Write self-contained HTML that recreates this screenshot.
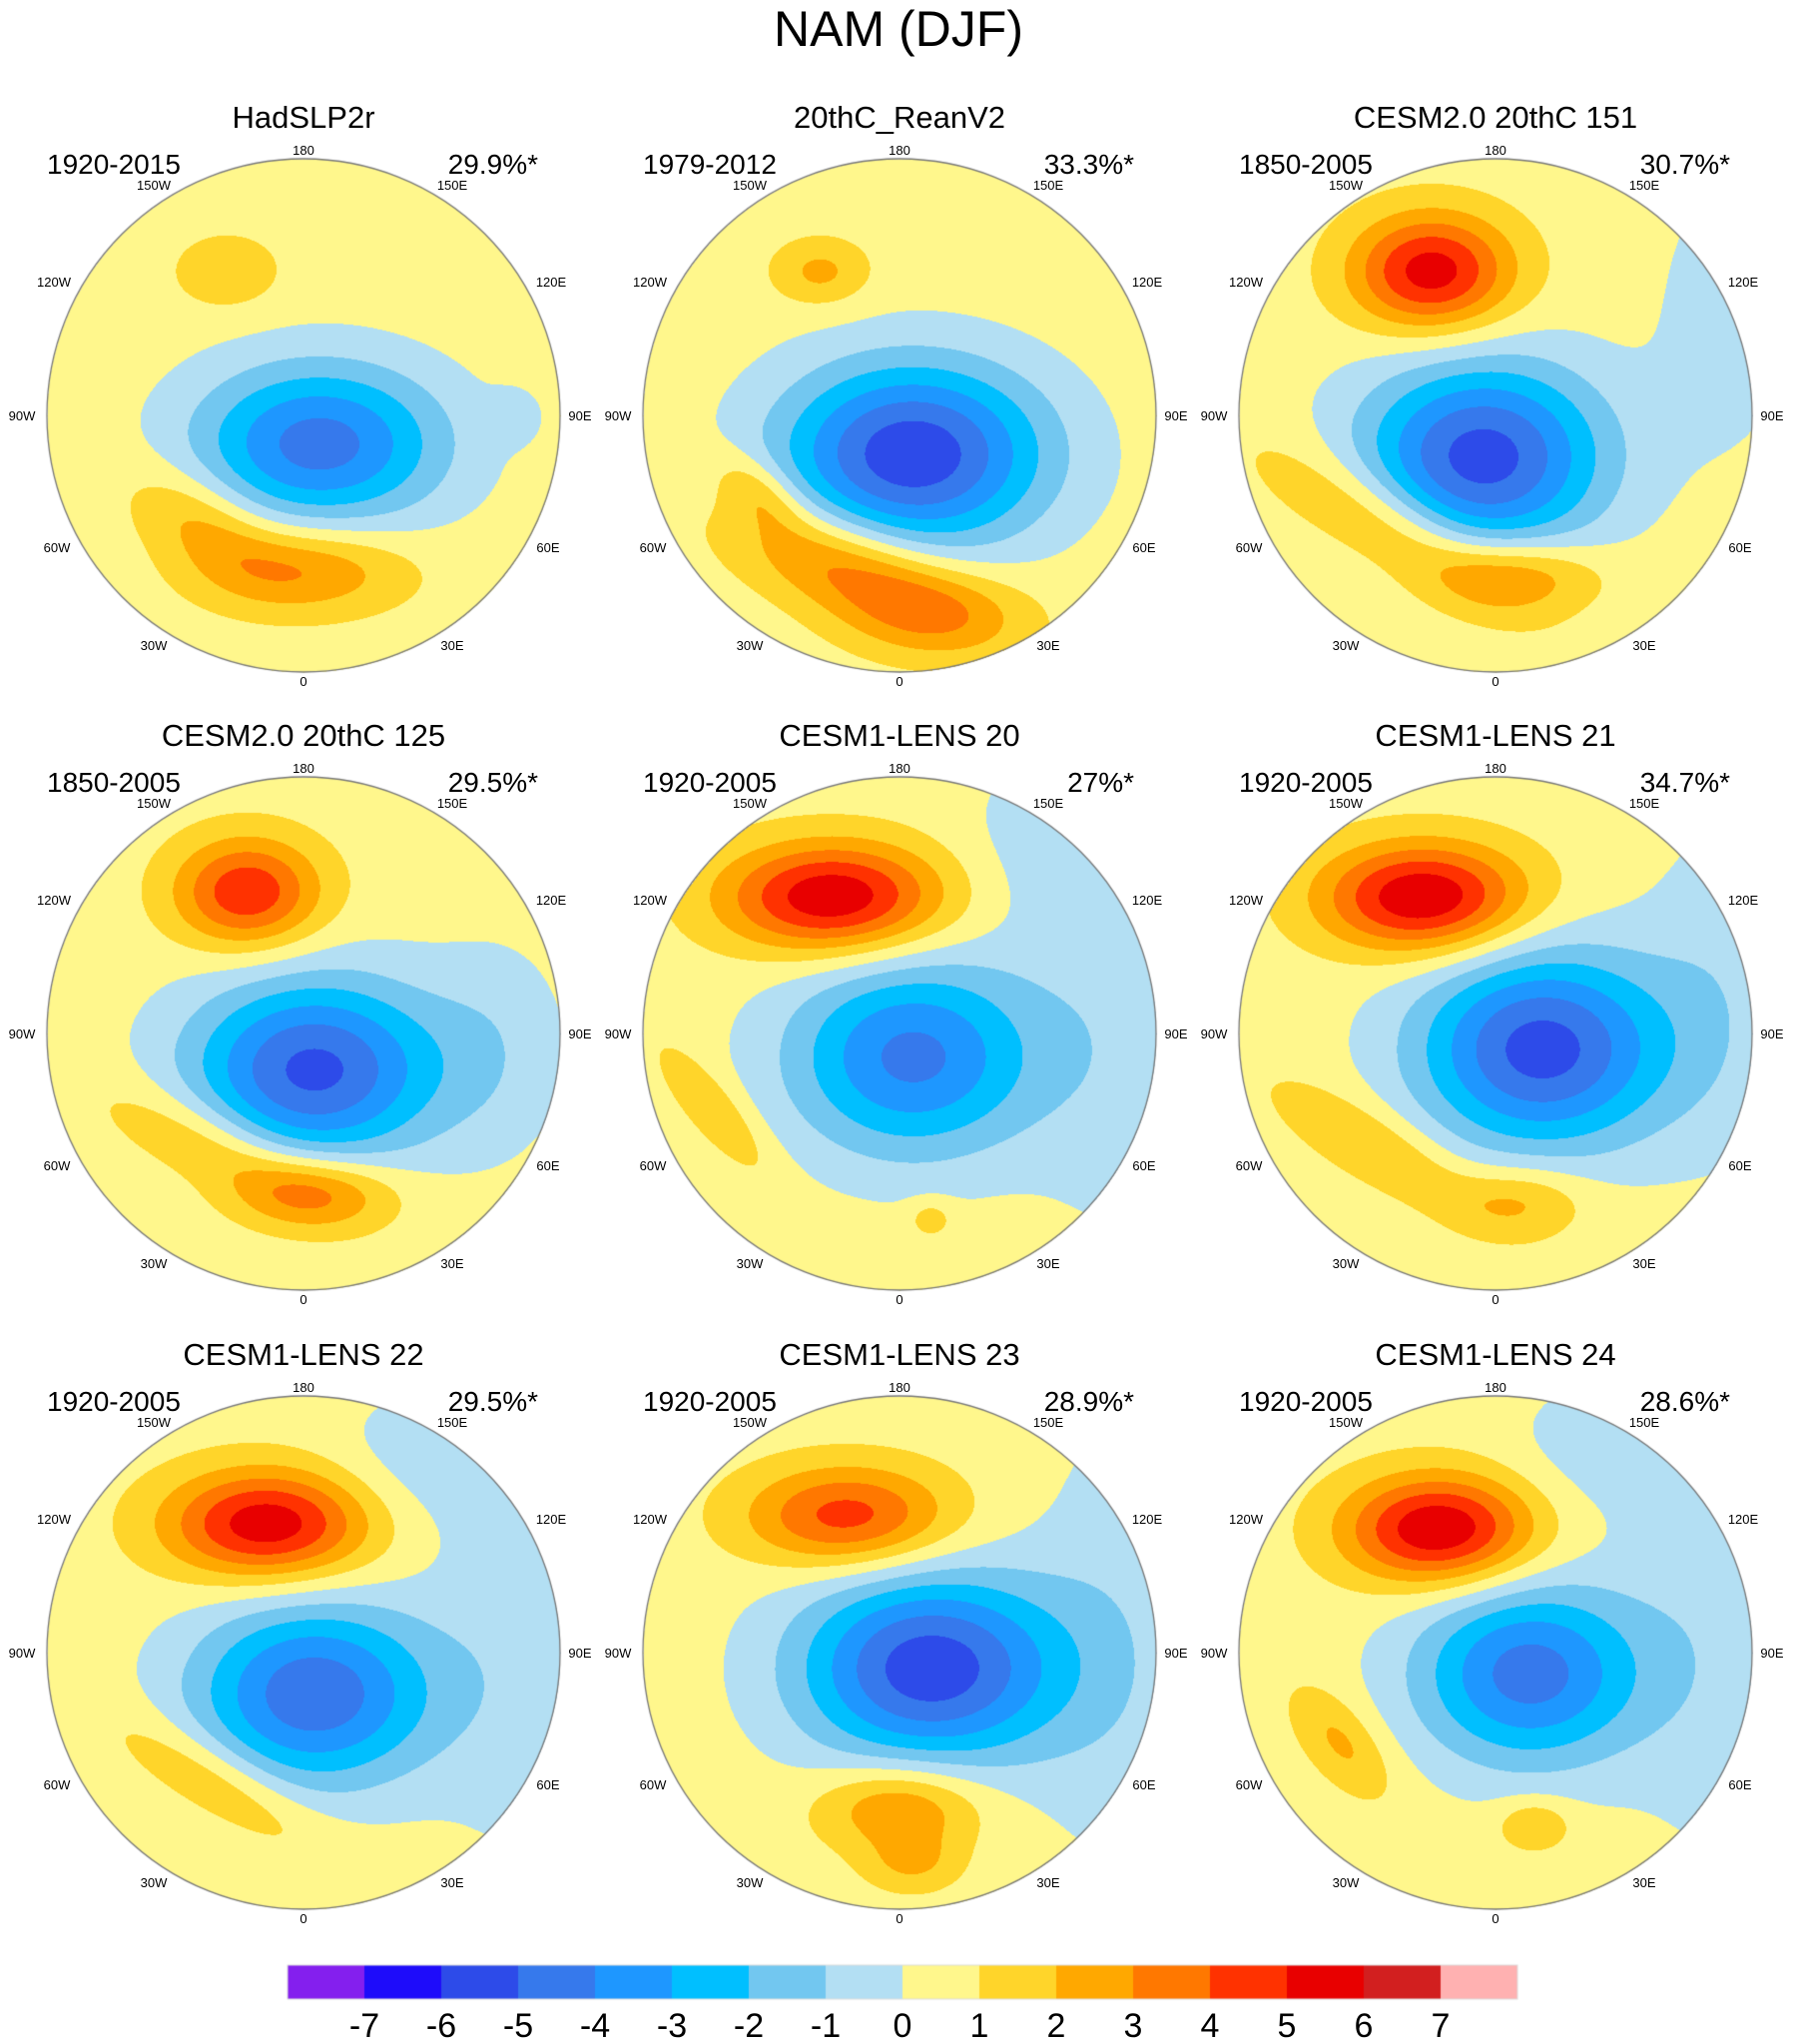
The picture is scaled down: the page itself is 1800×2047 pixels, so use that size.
<!DOCTYPE html>
<html><head><meta charset="utf-8"><style>
body{margin:0;background:#fff;}
#wrap{position:relative;width:1800px;height:2047px;overflow:hidden;font-family:"Liberation Sans",sans-serif;color:#000;}
.t{position:absolute;white-space:nowrap;}
</style></head><body>
<div id="wrap">
<canvas id="cv" width="1800" height="2047" style="position:absolute;left:0;top:0"></canvas>
<div class="t" style="left:0;width:1800px;top:0;text-align:center;font-size:50px;line-height:58px">NAM (DJF)</div>
</div>
<script>
// Panel metadata
const titles = ["HadSLP2r","20thC_ReanV2","CESM2.0 20thC 151","CESM2.0 20thC 125","CESM1-LENS 20","CESM1-LENS 21","CESM1-LENS 22","CESM1-LENS 23","CESM1-LENS 24"];
const periods = ["1920-2015","1979-2012","1850-2005","1850-2005","1920-2005","1920-2005","1920-2005","1920-2005","1920-2005"];
const percents = ["29.9%*","33.3%*","30.7%*","29.5%*","27%*","34.7%*","29.5%*","28.9%*","28.6%*"];
// Field features per panel: [u, v, amplitude(hPa), sigmaX, sigmaY, rotationDeg]
const fields = [
 [[0.06,0.11,-5,0.34,0.22,0],[-0.3,-0.56,1.4,0.14,0.1,0],[-0.4,0.42,2,0.22,0.12,30],[0.0,0.6,2.6,0.28,0.12,0],[0.82,0.0,-1.0,0.07,0.07,0]],
 [[0.05,0.15,-6.3,0.36,0.25,0],[-0.31,-0.56,1.8,0.13,0.09,0],[-0.2,0.6,3.3,0.34,0.13,20],[0.15,0.78,1.8,0.25,0.12,0],[-0.55,0.3,1.8,0.14,0.08,40]],
 [[-0.05,0.16,-6,0.33,0.26,0],[-0.25,-0.56,5.1,0.22,0.16,0],[-0.4,0.45,2.4,0.38,0.12,30],[0.1,0.62,2.4,0.22,0.1,0],[0.9,-0.4,-1.0,0.2,0.4,0]],
 [[0.04,0.14,-5.8,0.34,0.25,0],[-0.22,-0.55,4.4,0.2,0.15,0],[0.75,0.05,-1.0,0.2,0.3,0],[-0.35,0.45,2.1,0.32,0.11,25],[0.05,0.62,2.8,0.22,0.1,0]],
 [[0.05,0.09,-4.8,0.34,0.27,0],[-0.26,-0.53,5.5,0.3,0.15,0],[0.85,0.0,-1.0,0.25,0.6,0],[-0.72,0.3,1.6,0.22,0.07,50],[0.12,0.72,1.3,0.06,0.05,0],[0.6,-0.75,-1.0,0.25,0.25,0]],
 [[0.18,0.06,-6,0.34,0.27,0],[-0.28,-0.53,5.6,0.28,0.15,0],[0.88,-0.2,-1.0,0.22,0.5,0],[-0.45,0.45,1.7,0.32,0.1,30],[0.1,0.65,1.8,0.18,0.1,0]],
 [[0.04,0.16,-5.3,0.33,0.25,0],[-0.14,-0.5,5.3,0.28,0.15,0],[0.85,-0.1,-1.0,0.25,0.7,0],[0.45,-0.75,-1.0,0.25,0.2,0],[-0.35,0.5,1.8,0.32,0.1,30]],
 [[0.12,0.06,-6.2,0.36,0.26,0],[-0.2,-0.53,4.1,0.28,0.14,0],[0.85,-0.05,-1.0,0.25,0.7,0],[0.0,0.6,2.8,0.22,0.12,0],[0.05,0.82,1.5,0.13,0.08,0]],
 [[0.13,0.08,-5,0.31,0.25,0],[-0.22,-0.48,5.6,0.26,0.15,0],[0.85,-0.1,-1.0,0.25,0.7,0],[0.4,-0.8,-1.0,0.25,0.2,0],[-0.6,0.35,1.8,0.18,0.09,50],[0.15,0.67,1.7,0.1,0.07,0]]
];
const levels = [-7,-6,-5,-4,-3,-2,-1,0,1,2,3,4,5,6,7];
const colors = ["#841FEE","#1E0CFA","#2D4BE9","#3679EC","#1E97FF","#00BFFF","#72C7F0","#B3DFF3","#FFF78C","#FFD52A","#FFA800","#FF7800","#FF3200","#E80000","#D21F1F","#FFB1B1"];
const lonLabels = ["180","150W","120W","90W","60W","30W","0","30E","60E","90E","120E","150E"];

const colX=[304,901,1498], rowY=[416,1035,1655], R=257;
const rgb=colors.map(c=>[parseInt(c.slice(1,3),16),parseInt(c.slice(3,5),16),parseInt(c.slice(5,7),16)]);
function colorIndex(v){let i=0;while(i<levels.length&&v>=levels[i])i++;return i;}
const cv=document.getElementById('cv'),ctx=cv.getContext('2d');
ctx.fillStyle='#fff';ctx.fillRect(0,0,1800,2047);
const img=ctx.getImageData(0,0,1800,2047),d=img.data;
for(let p=0;p<9;p++){
 const cx=colX[p%3],cy=rowY[Math.floor(p/3)],F=fields[p];
 for(let y=cy-R;y<=cy+R;y++)for(let x=cx-R;x<=cx+R;x++){
  const u=(x-cx)/R,v=(y-cy)/R;if(u*u+v*v>1)continue;
  let val=0.5;
  for(const f of F){const a=f[5]*Math.PI/180,dx=u-f[0],dy=v-f[1];
   const rx=dx*Math.cos(a)+dy*Math.sin(a),ry=-dx*Math.sin(a)+dy*Math.cos(a);
   val+=f[2]*Math.exp(-0.5*(rx*rx/(f[3]*f[3])+ry*ry/(f[4]*f[4])));}
  const c=rgb[colorIndex(val)],k=(y*1800+x)*4;d[k]=c[0];d[k+1]=c[1];d[k+2]=c[2];d[k+3]=255;}
}
ctx.putImageData(img,0,0);
ctx.strokeStyle='#777';ctx.lineWidth=1.3;
for(let p=0;p<9;p++){ctx.beginPath();ctx.arc(colX[p%3],rowY[Math.floor(p/3)],R,0,Math.PI*2);ctx.stroke();}
// colorbar
const cbX=288,cbY=1968,cbW=77,cbH=34;
for(let i=0;i<colors.length;i++){ctx.fillStyle=colors[i];ctx.fillRect(cbX+i*cbW,cbY,cbW,cbH);}
ctx.strokeStyle='#ddd';ctx.lineWidth=1;ctx.strokeRect(cbX,cbY,cbW*16,cbH);

const wrap=document.getElementById('wrap');
function addText(txt,x,y,size,align,name){
 const e=document.createElement('div');e.className='t';e.textContent=txt;
 e.style.fontSize=size+'px';e.style.lineHeight=size+'px';e.style.top=(y-size/2)+'px';
 if(align==='c'){e.style.left=(x-200)+'px';e.style.width='400px';e.style.textAlign='center';}
 else if(align==='r'){e.style.left=(x-400)+'px';e.style.width='400px';e.style.textAlign='right';}
 else e.style.left=x+'px';
 
 
 wrap.appendChild(e);
}
const lblOff=[[0,-266],[-150,-231],[-250,-134],[-282,0],[-247,132],[-150,230],[0,266],[149,230],[245,132],[277,0],[248,-134],[149,-231]];
for(let p=0;p<9;p++){
 const cx=colX[p%3],r=Math.floor(p/3),cy=rowY[r];
 addText(titles[p],cx,cy-299,31,'c','panel-title');
 addText(periods[p],cx-257,cy-251,28,'l','period-label');
 addText(percents[p],cx+235,cy-251,28,'r','variance-label');
 for(let i=0;i<12;i++)addText(lonLabels[i],cx+lblOff[i][0],cy+lblOff[i][1],13,'c','longitude-label');
}
const cbTicks=["-7","-6","-5","-4","-3","-2","-1","0","1","2","3","4","5","6","7"];
for(let i=0;i<cbTicks.length;i++)addText(cbTicks[i],cbX+(i+1)*cbW,2029,34,'c','colorbar-tick');
</script>
</body></html>
